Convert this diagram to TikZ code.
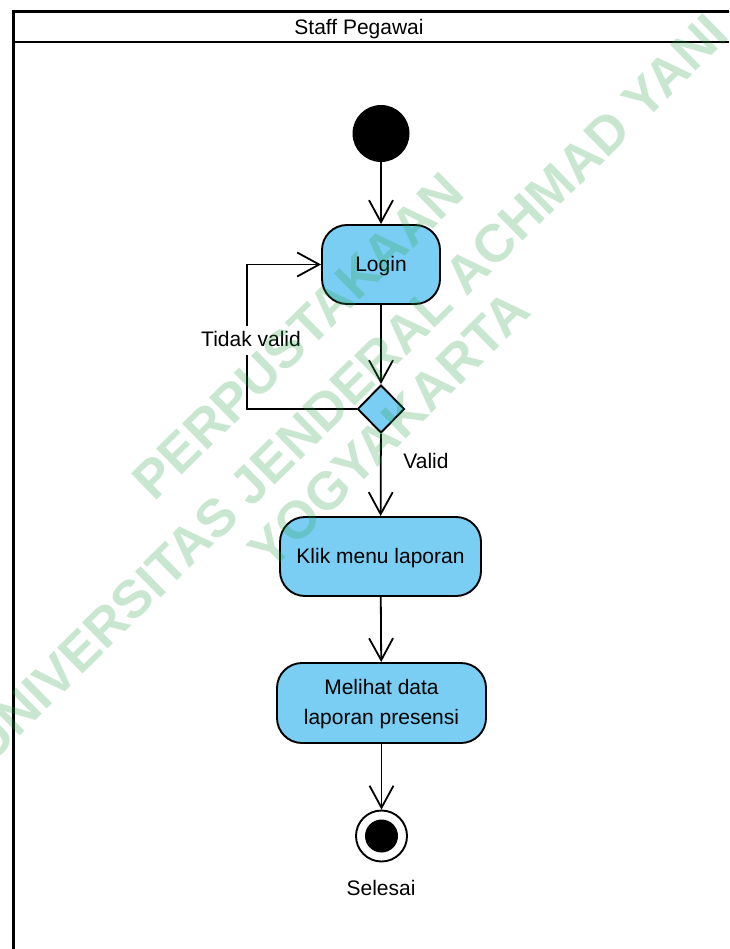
\documentclass[tikz,border=0pt]{standalone}
\usepackage{fontspec}
\setmainfont{Liberation Sans}
\usetikzlibrary{arrows.meta,shapes.geometric}
\definecolor{actfill}{RGB}{122,206,243}
\definecolor{wmgreen}{RGB}{40,160,70}

\begin{document}
\begin{tikzpicture}[x=1pt,y=-1pt,
  every node/.style={font=\fontsize{21}{29.5}\selectfont},
  action/.style={draw, line width=1.9pt, fill=actfill, rounded corners=25pt,
                 inner sep=0pt, align=center, text depth=2pt},
  decision/.style={draw, diamond, line width=1.9pt, fill=actfill, inner sep=0pt,
                   minimum width=47pt, minimum height=48pt},
  flow/.style={line width=1.8pt,
               -{Straight Barb[length=22pt,width=24pt,line width=1.8pt]}},
  lbl/.style={anchor=base, inner sep=0pt},
  wm/.style={font=\fontsize{53}{60}\bfseries\selectfont, text=wmgreen,
             text opacity=0.25, inner sep=0pt, rotate=44.5}
]
\useasboundingbox (0,0) rectangle (729,949);
\clip (0,0) rectangle (729,949);
\fill[white] (0,0) rectangle (729,949);

% swimlane frame and header
\draw[line width=3pt] (13.5,960) -- (13.5,12) -- (740,12);
\draw[line width=2.5pt] (13.5,42) -- (740,42);
\node[lbl] (lane) at (359,35) {Staff Pegawai};

% activity nodes
\node[circle, fill=black, minimum size=57pt, inner sep=0pt] (start) at (381,133.5) {};
\node[action, minimum width=118pt, minimum height=79pt] (login) at (381,264.5) {Login};
\node[decision] (dec) at (381,409) {};
\node[action, minimum width=201pt, minimum height=79pt] (klik) at (380.5,556.5) {Klik menu laporan};
\node[action, minimum width=209pt, minimum height=80pt] (lihat) at (381.5,703) {Melihat data\\laporan presensi};
\node[circle, draw, line width=1.9pt, minimum size=51pt, inner sep=0pt] (end) at (381.5,836) {};
\node[circle, fill=black, minimum size=33pt, inner sep=0pt] (endcore) at (end) {};
\node[lbl] (selesai) at (381,895) {Selesai};

% control flow
\coordinate (loopc) at (247,409);
\draw[flow] (start) -- (login);
\draw[flow] (login) -- (dec);
\draw[flow] (dec.west) -- (loopc) |- (login.west);
\node[anchor=base, fill=white, inner xsep=1pt, text height=17pt, text depth=5pt] (tidak) at (251,346.7) {Tidak valid};
\draw[flow] (dec) -- (klik);
\node[lbl] (valid) at (426,468) {Valid};
\draw[flow] (klik) -- (lihat);
\draw[flow] (lihat) -- (end);

% watermark
\node[wm] (wm1) at (298,336) {PERPUSTAKAAN};
\node[wm] (wm2) at (348,388) {UNIVERSITAS JENDERAL ACHMAD YANI};
\node[wm] (wm3) at (389,430) {YOGYAKARTA};
\end{tikzpicture}
\end{document}
